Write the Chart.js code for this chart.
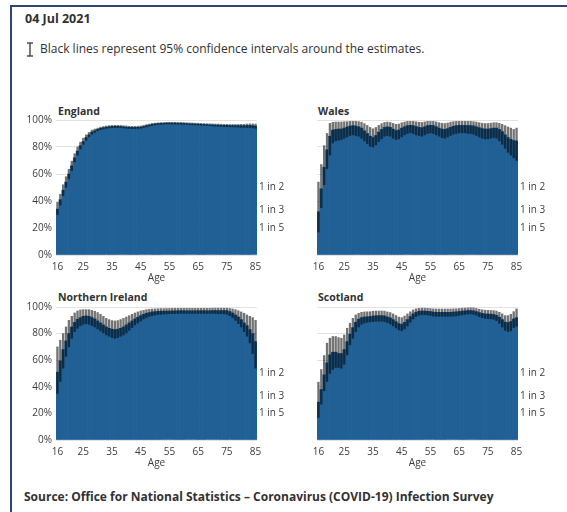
<!DOCTYPE html>
<html>
<head>
<meta charset="utf-8">
<script src="https://cdn.jsdelivr.net/npm/chart.js@4/dist/chart.umd.min.js"></script>
<style>
  html, body { margin: 0; padding: 0; background: #fff; }
  #wrap { position: relative; width: 567px; height: 512px; overflow: hidden; background: #fff;
          font-family: "Open Sans", sans-serif; color: #323132; }
  #frame { position: absolute; left: 10px; top: 5px; width: 560px; height: 520px;
           border-top: 2px solid #2f4474; border-left: 2px solid #2f4474; }
  .txt { position: absolute; white-space: nowrap; }
  .date { left: 25px; top: 10px; font-size: 12.5px; font-weight: 700; line-height: 18px; }
  .note { left: 40px; top: 40px; font-size: 12px; line-height: 18px; }
  .src  { left: 24px; top: 488px; font-size: 12px; font-weight: 700; line-height: 18px; }
  .ptitle { position: absolute; font-size: 10.5px; font-weight: 700; line-height: 12px; white-space: nowrap; }
  canvas { position: absolute; }
  #icon { position: absolute; left: 26px; top: 42px; }
</style>
</head>
<body>
<div id="wrap">
  <div id="frame"></div>
  <div class="txt date">04 Jul 2021</div>
  <svg id="icon" width="8" height="15" viewBox="0 0 8 15">
    <line x1="1" y1="1" x2="7" y2="1" stroke="#444" stroke-width="1.4"/>
    <line x1="4" y1="1" x2="4" y2="14" stroke="#444" stroke-width="1.4"/>
    <line x1="1" y1="14" x2="7" y2="14" stroke="#444" stroke-width="1.4"/>
  </svg>
  <div class="txt note">Black lines represent 95% confidence intervals around the estimates.</div>

  <div class="ptitle" style="left:58px; top:105px;">England</div>
  <div class="ptitle" style="left:318px; top:105px;">Wales</div>
  <div class="ptitle" style="left:58px; top:291px;">Northern Ireland</div>
  <div class="ptitle" style="left:318px; top:291px;">Scotland</div>

  <canvas id="cEngland" width="290" height="185" style="left:0; top:100px; width:290px; height:185px;"></canvas>
  <canvas id="cWales" width="277" height="185" style="left:290px; top:100px; width:277px; height:185px;"></canvas>
  <canvas id="cNI" width="290" height="183" style="left:0; top:287px; width:290px; height:183px;"></canvas>
  <canvas id="cScotland" width="277" height="183" style="left:290px; top:287px; width:277px; height:183px;"></canvas>

  <div class="txt src">Source: Office for National Statistics – Coronavirus (COVID-19) Infection Survey</div>
</div>

<script>
// Ages 16 to 85
const ages = ['16','17','18','19','20','21','22','23','24','25','26','27','28','29','30','31','32','33','34','35',
  '36','37','38','39','40','41','42','43','44','45','46','47','48','49','50','51','52','53','54','55',
  '56','57','58','59','60','61','62','63','64','65','66','67','68','69','70','71','72','73','74','75',
  '76','77','78','79','80','81','82','83','84','85'];
const shownAgeTicks = ['16','25','35','45','55','65','75','85'];
const oddsValues = [50, 100 / 3, 20];
const oddsLabels = ['1 in 2', '1 in 3', '1 in 5'];

// Percentage of adults testing positive for antibodies, by single year of age
const englandEst = [34,41,48,54,60,66,72,77,81,84,
  87,89,91,92,93,93.8,94.3,94.7,95,95.2,
  95.3,95.3,95.2,95,94.8,94.6,94.5,94.5,94.6,94.8,
  95.2,95.8,96.3,96.8,97.1,97.3,97.5,97.6,97.7,97.7,
  97.7,97.7,97.6,97.6,97.5,97.4,97.2,97.1,97,96.9,
  96.8,96.7,96.6,96.5,96.4,96.3,96.2,96.1,96,96,
  95.9,95.9,95.8,95.8,95.8,95.8,95.9,95.9,95.8,95.5];
const englandLow = [30,37,44,50,56.5,62.5,69,74,78.5,82,
  85,87.5,89.5,90.8,92,92.8,93.3,93.8,94.1,94.3,
  94.4,94.4,94.3,94.1,93.9,93.7,93.6,93.6,93.7,93.9,
  94.3,94.9,95.5,96,96.4,96.6,96.8,96.9,97,97,
  97,97,96.9,96.9,96.8,96.7,96.5,96.4,96.3,96.2,
  96.1,96,95.9,95.8,95.6,95.5,95.4,95.3,95.1,95.1,
  95,94.9,94.8,94.7,94.6,94.5,94.5,94.4,94.2,93.8];
const englandHigh = [39,45,52,58,63.5,69.5,75,80,83.5,86.5,
  89,90.8,92.5,93.3,94,94.7,95.2,95.5,95.8,96,
  96.1,96.1,96,95.8,95.6,95.4,95.3,95.3,95.4,95.6,
  96,96.6,97,97.5,97.7,97.9,98.1,98.2,98.3,98.3,
  98.3,98.3,98.2,98.2,98.1,98,97.9,97.8,97.7,97.6,
  97.5,97.4,97.3,97.2,97.1,97,97,96.9,96.8,96.8,
  96.7,96.7,96.7,96.7,96.8,96.8,97,97.1,97.1,97];

const walesEst = [32,49,65,78,88,92.5,93,93.3,93.3,94,
  94.8,95.5,95.8,95.5,95,94,92,90,88,87,
  88.5,91,93,94.5,95,94.5,93.2,92.2,92.6,94,
  95,95.8,96,95.8,95.2,94.6,94.3,95,95.8,96,
  95.8,95,94,93.3,93,93.6,94.6,95.3,95.8,96,
  96,96,95.8,95.8,95.6,95,94.3,93.6,93.3,93.3,
  93.6,94,94,93,91.4,89,87,85.7,84.7,84.5];
const walesLow = [17,35,52,64,74,83,84.5,85,85.5,86.5,
  87.5,88.5,89,88.5,88,86.5,84.5,82.5,80.5,80,
  81.5,84,86,88,88.5,88,86.5,85.5,86,87.5,
  89,90,90.5,90,89,88.5,88,89,90,90.5,
  90,89,88,87,86.5,87.5,88.5,89.5,90,90.5,
  90.5,90.5,90,90,89.5,88.5,87.5,86.5,86,86,
  86.5,87,86.5,84.5,82,79,76,74,72,70];
const walesHigh = [54,67,81,90,97.5,98.3,98.5,98.5,98.5,98.7,
  98.8,99,99,99,98.8,98.4,97.3,96,94.5,93.5,
  94.5,96,97.3,98.2,98.5,98.2,97.5,96.8,97,98,
  98.5,99,99,99,98.7,98.3,98.2,98.6,99,99,
  99,98.6,98,97.6,97.4,97.8,98.4,98.8,99,99,
  99,99,99,99,98.8,98.5,98,97.6,97.4,97.4,
  97.6,98,98,97.5,96.8,95.8,94.8,94,93,94];

const niEst = [51,59.5,68,74.5,80,85,88.5,90.8,92,93,
  93.3,93,92,91,89.5,88,86.5,85,84,83.3,
  83,83.3,84,85,86.5,88,89.5,91,92.3,93.5,
  94.5,95.3,95.8,96.3,96.5,96.7,96.8,96.9,97,97,
  97.1,97.1,97.2,97.2,97.2,97.2,97.2,97.2,97.2,97.2,
  97.2,97.2,97.2,97.2,97.3,97.3,97.3,97.3,97.3,97.3,
  96.5,95.5,94,92.5,90.5,88,86,83,80,74];
const niLow = [35,44,54,63,70,76.5,81.5,84,86,87,
  87.5,87,86,85,83.5,82,80.5,79,78,77,
  76.5,77,78,79,80.5,82.5,84.5,86.5,88,89.5,
  91,92,93,93.5,94,94.3,94.5,94.7,94.8,95,
  95,95.1,95.1,95.2,95.2,95.2,95.2,95.2,95.2,95.2,
  95.2,95.2,95.2,95.2,95.2,95.1,95,95,94.8,94.5,
  93.5,92,90,87.5,85,81.5,78,73,65,54];
const niHigh = [70,75,80,85,90,93,95.5,97,97.8,98,
  98,98,97.5,96.8,95.8,94.5,93,91.5,90.5,89.8,
  89.5,89.8,90.5,91.5,92.5,93.5,94.5,95.5,96.3,97,
  97.5,98,98.3,98.5,98.6,98.7,98.8,98.8,98.9,98.9,
  99,99,99,99,99,99,99,99,99,99,
  99,99,99,99,99.1,99.1,99.1,99.1,99.1,99.1,
  98.9,98.5,98,97.2,96.3,95.3,94,93,92,90];

const scotlandEst = [28.5,38,49,58,64,66,66,65,65,68,
  74,79.5,84.5,88.5,90.8,92,92.5,92.6,92.8,93.2,
  93.4,93.5,93.5,93.3,92.5,91.8,90.5,89,87.5,87,
  88.5,90.5,92.8,94.8,96,96.8,97,97,96.8,96.5,
  96.2,96,96,96,96,96,96,96.1,96.3,96.6,
  96.9,97.1,97.3,97.4,97.2,96.6,95.8,95.2,94.8,94.7,
  94.6,94.4,93.7,92.3,90.5,88.6,88.3,89,91,92];
const scotlandLow = [17,27,37,44,50,53,54.5,54.5,54,57,
  64,71.5,76.5,81.5,85,87,88,88.5,88.8,89,
  89.2,89.3,89.3,89,88.2,87.2,85.8,84.2,82.8,82.2,
  83.5,85.8,88.5,91,92.8,93.8,94.2,94.2,94,93.6,
  93.2,93,93,93,93,93,93,93.1,93.3,93.7,
  94.1,94.4,94.7,94.8,94.5,93.8,92.8,92,91.5,91.3,
  91.1,90.8,89.8,87.8,85,82.5,81.5,82,84.5,85.5];
const scotlandHigh = [43.5,53,63.5,72.8,76.5,77.8,77.8,77,76.5,79,
  84,87.8,91.5,94,95.3,96,96.3,96.4,96.5,96.8,
  97,97,97,96.9,96.3,95.8,94.8,93.6,92.4,92,
  93.2,94.8,96.4,97.8,98.6,99,99.1,99.1,99,98.8,
  98.6,98.5,98.5,98.5,98.5,98.5,98.5,98.6,98.7,98.9,
  99.1,99.2,99.3,99.4,99.3,98.9,98.3,97.9,97.6,97.5,
  97.4,97.3,96.9,96,94.8,93.5,93.5,94.5,96.5,98.5];

const barBlue = '#206095';
const textColor = '#3c3c3c';
const fontFamily = '"Open Sans", sans-serif';

function buildChart(canvasId, est, low, high, showPercentTicks, yAxisWidth, oddsWidth) {
  const ctx = document.getElementById(canvasId);
  return new Chart(ctx, {
    type: 'bar',
    data: {
      labels: ages,
      datasets: [
        {
          label: '95% confidence interval',
          data: low.map((l, i) => [l, high[i]]),
          backgroundColor: 'rgba(0,0,0,0.55)',
          borderWidth: 0,
          barThickness: 1.7,
          grouped: false,
          order: 0
        },
        {
          label: 'Estimate',
          data: est,
          backgroundColor: barBlue,
          borderWidth: 0,
          barPercentage: 1,
          categoryPercentage: 1,
          grouped: false,
          order: 1
        }
      ]
    },
    options: {
      responsive: false,
      animation: false,
      devicePixelRatio: 1,
      layout: { padding: { top: 20, left: 0, right: 0, bottom: 0 } },
      plugins: { legend: { display: false }, tooltip: { enabled: false } },
      scales: {
        x: {
          grid: { display: false, drawTicks: false },
          border: { display: false },
          ticks: {
            autoSkip: false,
            maxRotation: 0,
            padding: 6,
            color: textColor,
            font: { family: fontFamily, size: 10 },
            callback: function (value) {
              const lab = this.getLabelForValue(value);
              return shownAgeTicks.includes(lab) ? lab : '';
            }
          },
          title: {
            display: true,
            text: 'Age',
            color: textColor,
            font: { family: fontFamily, size: 10 },
            padding: { top: -7, bottom: 1 }
          }
        },
        y: {
          min: 0,
          max: 100,
          grid: { color: '#e2e2e2', drawTicks: false },
          border: { display: false },
          ticks: {
            display: showPercentTicks,
            stepSize: 20,
            padding: 4,
            color: textColor,
            font: { family: fontFamily, size: 10 },
            callback: (v) => v + '%'
          },
          afterFit: (s) => { s.width = yAxisWidth; }
        },
        odds: {
          type: 'linear',
          position: 'right',
          min: 0,
          max: 100,
          grid: { display: false, drawTicks: false },
          border: { display: false },
          afterBuildTicks: (s) => { s.ticks = oddsValues.map(v => ({ value: v })); },
          ticks: {
            padding: 2,
            color: textColor,
            font: { family: fontFamily, size: 10 },
            callback: (v) => oddsLabels[oddsValues.indexOf(v)]
          },
          afterFit: (s) => { s.width = oddsWidth; }
        }
      }
    }
  });
}

buildChart('cEngland', englandEst, englandLow, englandHigh, true, 56, 33);
buildChart('cWales', walesEst, walesLow, walesHigh, false, 27, 49);
buildChart('cNI', niEst, niLow, niHigh, true, 56, 33);
buildChart('cScotland', scotlandEst, scotlandLow, scotlandHigh, false, 27, 49);
</script>
</body>
</html>
